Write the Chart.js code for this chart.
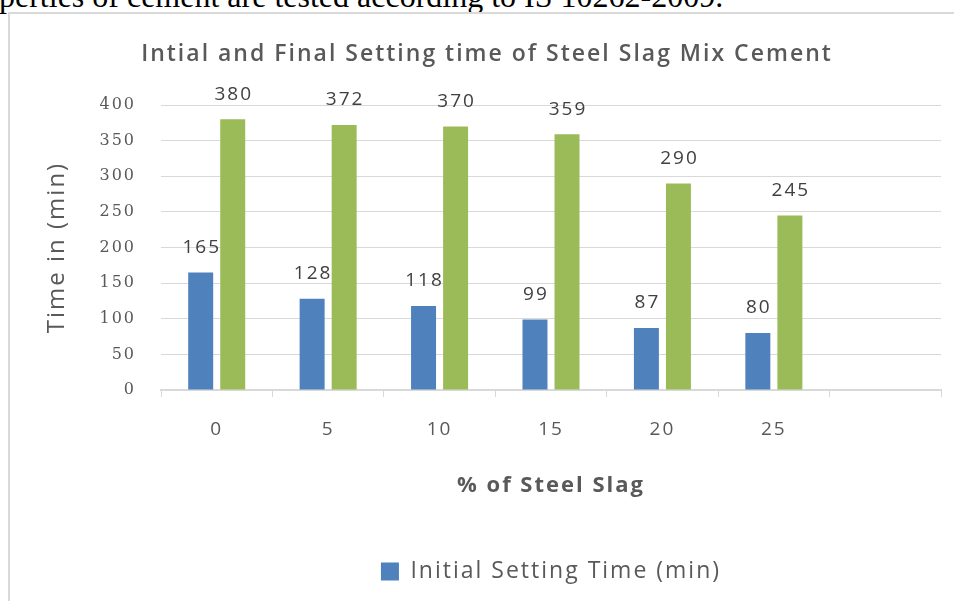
<!DOCTYPE html>
<html>
<head>
<meta charset="utf-8">
<title>Setting time of steel slag mix cement</title>
<script src="https://cdn.jsdelivr.net/npm/chart.js@4.4.0/dist/chart.umd.min.js"></script>
<style>
  html, body { margin: 0; padding: 0; background: #fff; overflow: hidden; width: 954px; height: 601px; }
  .doc-line { position: absolute; left: -1px; top: -20px; font: 32px/32px "Liberation Serif", serif; color: #000; white-space: nowrap; }
  .frame { position: absolute; left: 8px; top: 12px; width: 2000px; height: 2000px; border-left: 2px solid #d9d9d9; border-top: 2px solid #d9d9d9; }
  .chart-wrap { position: absolute; left: 0; top: 0; width: 954px; height: 666px; }
</style>
</head>
<body>
<div class="doc-line">perties of cement are tested according to IS 10262-2009.</div>
<div class="frame"></div>
<div class="chart-wrap"><canvas id="settingChart"></canvas></div>
<script>
// % steel slag in the mix (last slot is an empty category)
const slagPercent = ['0', '5', '10', '15', '20', '25', ''];
const initialSetting = [165, 128, 118, 99, 87, 80, null];
const finalSetting = [380, 372, 370, 359, 290, 245, null];
const yMin = 0;
const yMax = 400;
const yStep = 50;

const textGrey = '#595959';

// loose, office-style text spacing on every canvas label
const wideText = {
  id: 'wideText',
  beforeLayout(chart) { chart.ctx.letterSpacing = '2px'; },
  beforeDraw(chart) { chart.ctx.letterSpacing = '2px'; }
};

// writes each bar's value above it
const valueLabels = {
  id: 'valueLabels',
  afterDatasetsDraw(chart) {
    const ctx = chart.ctx;
    ctx.save();
    ctx.font = '19px "Open Sans"';
    ctx.fillStyle = '#404040';
    ctx.textAlign = 'center';
    ctx.textBaseline = 'middle';
    chart.data.datasets.forEach((ds, i) => {
      chart.getDatasetMeta(i).data.forEach((bar, j) => {
        const v = ds.data[j];
        if (v == null) return;
        ctx.fillText(String(v), bar.x + 1, bar.y - 25);
      });
    });
    ctx.restore();
  }
};

document.addEventListener('DOMContentLoaded', () => {
  Chart.defaults.font.family = '"Open Sans", sans-serif';

  new Chart(document.getElementById('settingChart'), {
    type: 'bar',
    data: {
      labels: slagPercent,
      datasets: [
        {
          label: 'Initial Setting Time (min)',
          data: initialSetting,
          backgroundColor: '#4f81bd',
          categoryPercentage: 0.575,
          barPercentage: 0.78
        },
        {
          label: 'Final Setting Time (min)',
          data: finalSetting,
          backgroundColor: '#9bbb59',
          categoryPercentage: 0.575,
          barPercentage: 0.78
        }
      ]
    },
    options: {
      responsive: true,
      maintainAspectRatio: false,
      animation: false,
      layout: { padding: { left: 33, right: 13, top: 0, bottom: 0 } },
      plugins: {
        title: {
          display: true,
          text: 'Intial and Final Setting time of Steel Slag Mix Cement',
          color: textGrey,
          font: { size: 23, weight: '600' },
          padding: { top: 41, bottom: 36.4 }
        },
        legend: {
          position: 'bottom',
          fullSize: false,
          labels: {
            boxWidth: 18,
            boxHeight: 18,
            padding: 50,
            color: textGrey,
            font: { size: 23 }
          }
        },
        tooltip: { enabled: false }
      },
      scales: {
        x: {
          afterFit: s => { s.height = 120; },
          border: { color: '#d9d9d9', width: 2 },
          grid: { drawOnChartArea: false, tickLength: 7, color: '#d9d9d9', offset: true },
          ticks: { color: textGrey, font: { size: 19 }, padding: 21.6 },
          title: {
            display: true,
            text: '% of Steel Slag',
            color: textGrey,
            font: { size: 22, weight: 'bold' },
            padding: { top: 0, bottom: 10.8 }
          }
        },
        y: {
          min: yMin,
          max: yMax,
          afterFit: s => { s.width = 128; },
          border: { display: false },
          grid: { color: '#d9d9d9', drawTicks: false },
          ticks: {
            stepSize: yStep,
            color: textGrey,
            font: { family: '"DejaVu Serif", serif', size: 16 },
            padding: 25
          },
          title: {
            display: true,
            text: 'Time in (min)',
            color: textGrey,
            font: { size: 24, weight: '500' },
            padding: { top: 9.6, bottom: 0 }
          }
        }
      }
    },
    plugins: [wideText, valueLabels]
  });
});
</script>
</body>
</html>
